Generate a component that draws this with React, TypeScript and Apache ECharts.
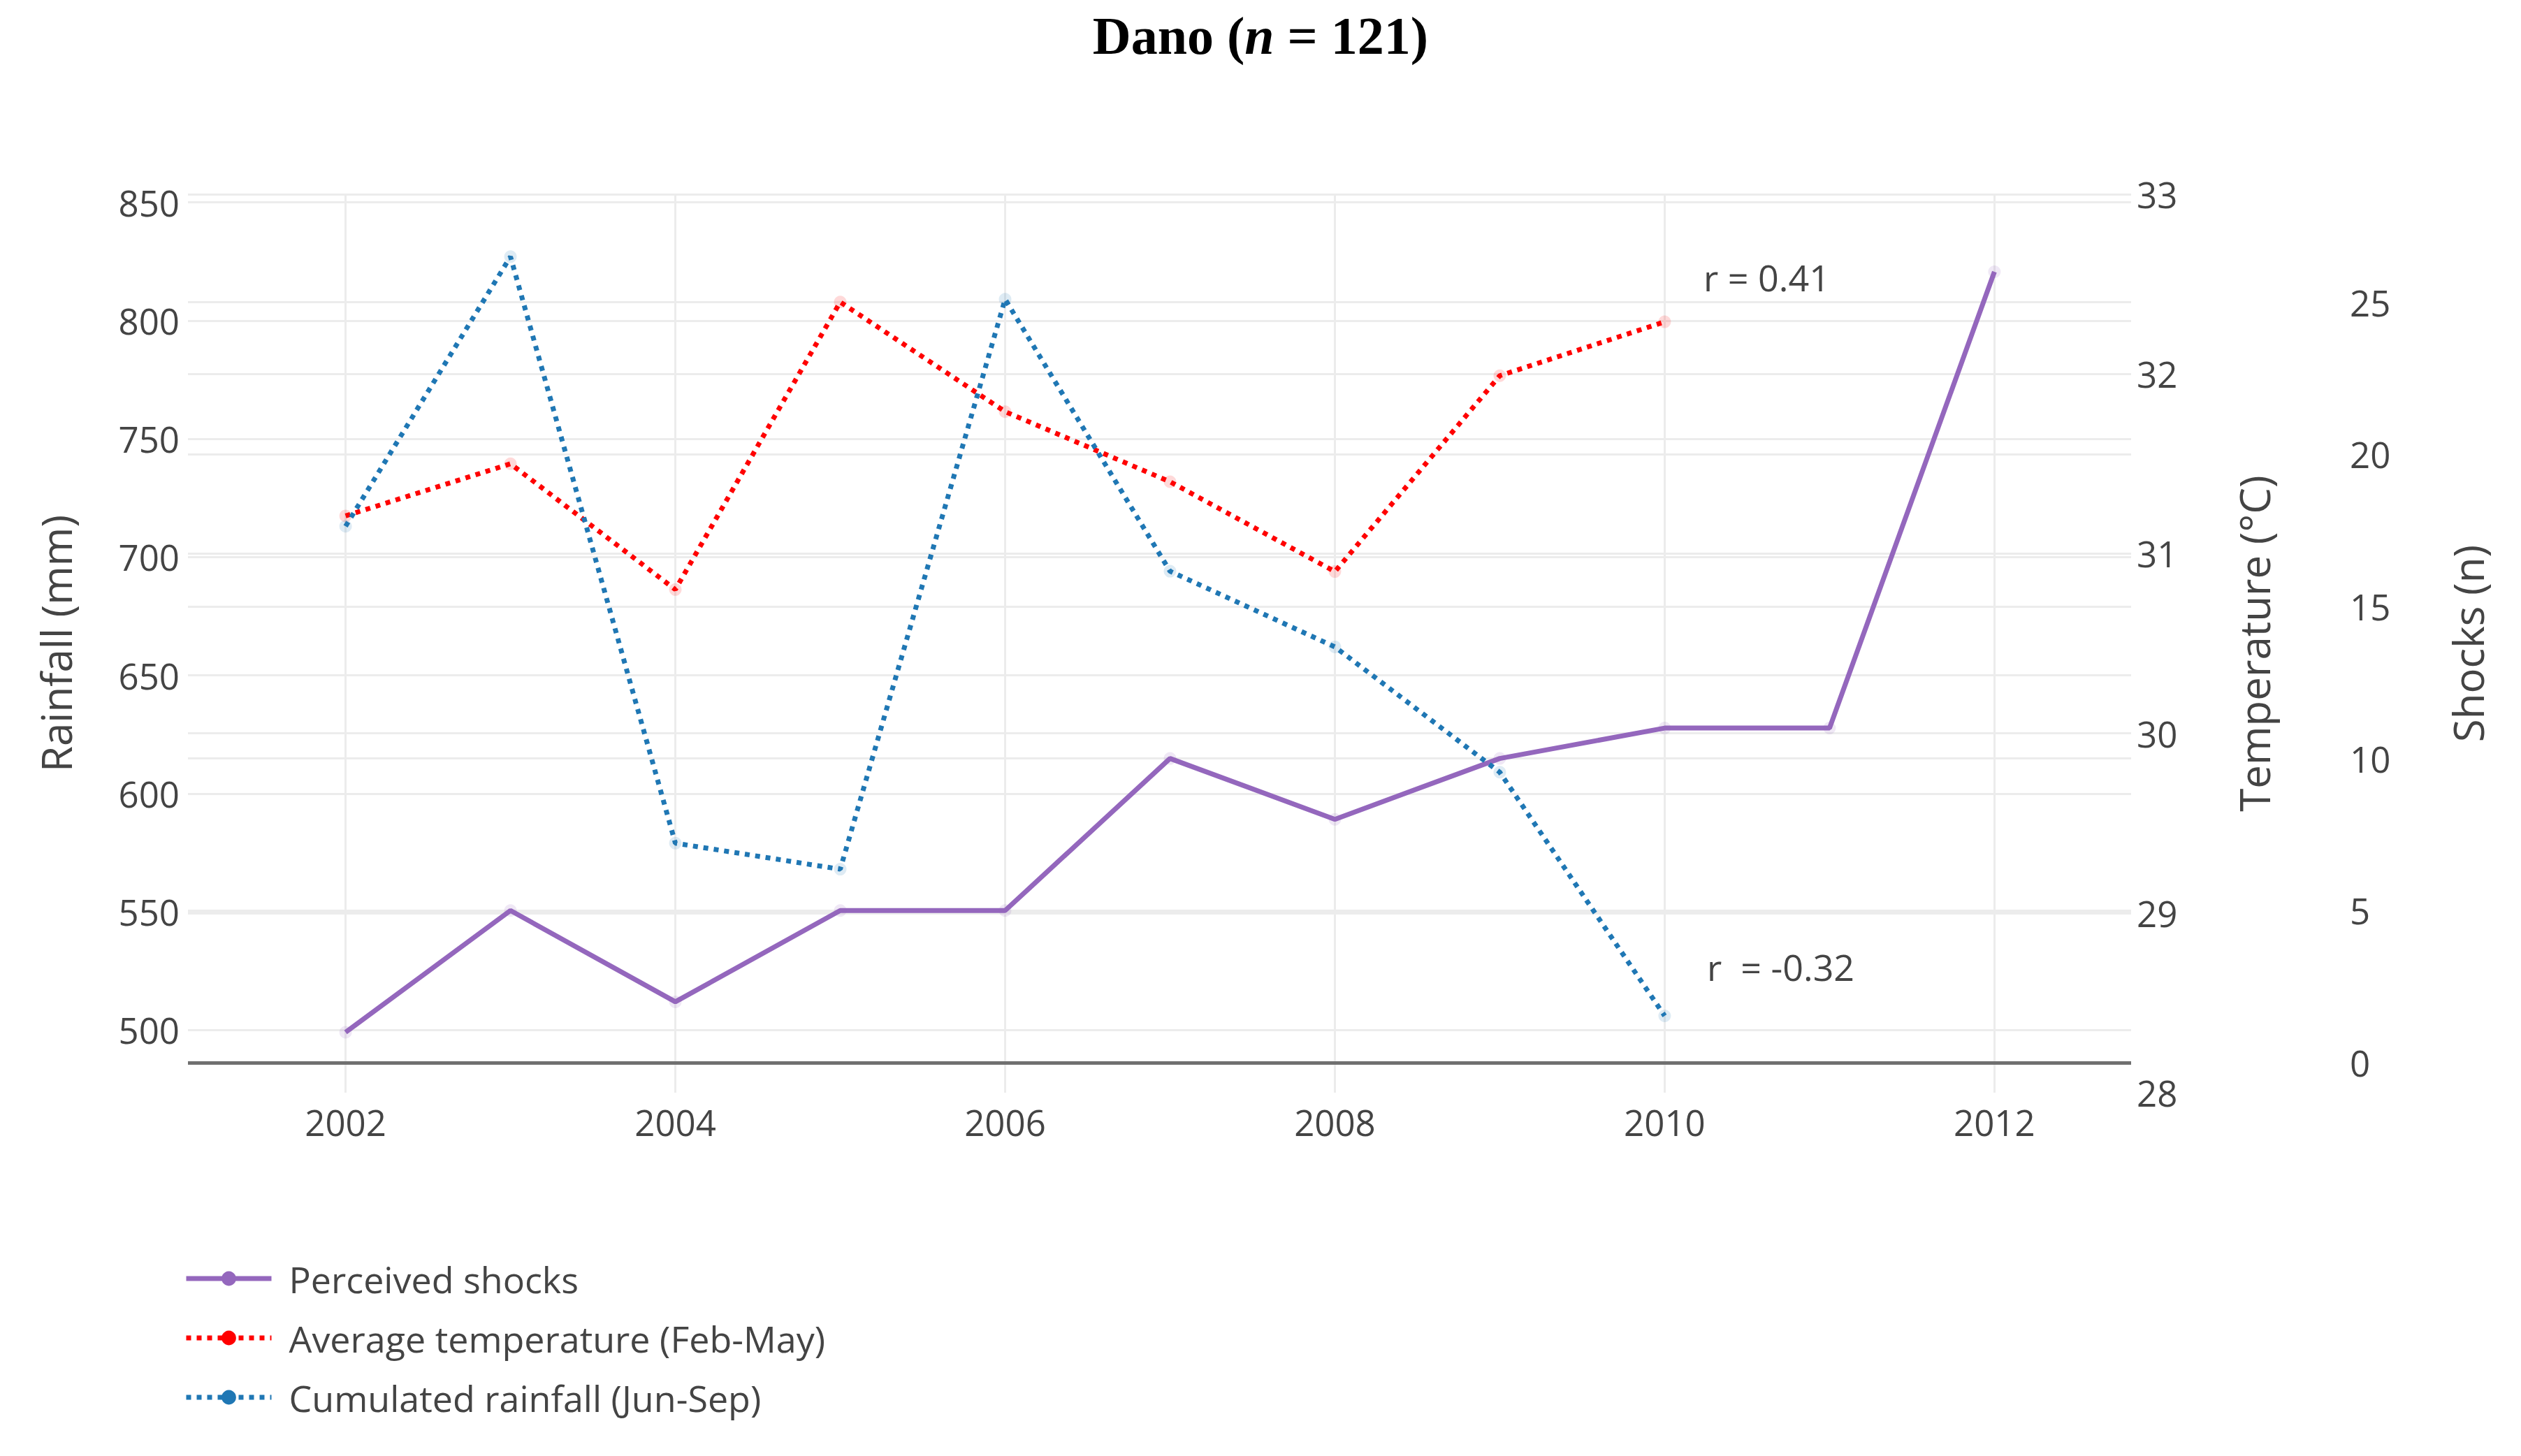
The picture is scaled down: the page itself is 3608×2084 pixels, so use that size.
import React, { useEffect, useRef } from "react";
import * as echarts from "echarts";

const years = [2002, 2003, 2004, 2005, 2006, 2007, 2008, 2009, 2010, 2011, 2012];
const shocks = [1, 5, 2, 5, 5, 10, 8, 10, 11, 11, 26];
const temperature = [31.21, 31.5, 30.8, 32.4, 31.79, 31.4, 30.9, 31.99, 32.29];
const rainfall = [713, 827, 579, 568, 809, 694, 662, 609, 506];
const xTicks = [2002, 2004, 2006, 2008, 2010, 2012];
const rainTicks = [500, 550, 600, 650, 700, 750, 800, 850];
const tempTicks = [28, 29, 30, 31, 32, 33];
const tempGrid = [29, 30, 31, 32, 33];
const shockTicks = [0, 5, 10, 15, 20, 25];
const seriesNames = ["Perceived shocks", "Average temperature (Feb-May)", "Cumulated rainfall (Jun-Sep)"];
const annotationTexts = ["r = 0.41", "r \u00a0= -0.32"];

const FONT = '"Open Sans", "DejaVu Sans", sans-serif';
const TXT = "#444";
const GRIDC = "#ececec";

export default function App() {
  const ref = useRef<HTMLDivElement>(null);
  useEffect(() => {
    if (!ref.current) return;
    const chart = echarts.init(ref.current, undefined, { renderer: "svg" });
    const pair = (xs: number[], ys: number[]) => ys.map((v, i) => [xs[i], v]);
    const labelStyle = { color: TXT, fontFamily: FONT, fontSize: 51 };
    const nameStyle = { color: TXT, fontFamily: FONT, fontSize: 60 };
    chart.setOption({
      animation: false,
      backgroundColor: "#fff",
      title: {
        text: "{a|Dano (}{b|n}{a| = 121)}",
        left: "center",
        top: 8,
        textStyle: {
          rich: {
            a: { fontFamily: '"Liberation Serif", "Times New Roman", serif', fontWeight: "bold", fontSize: 76, color: "#000" },
            b: { fontFamily: '"Liberation Serif", "Times New Roman", serif', fontWeight: "bold", fontStyle: "italic", fontSize: 76, color: "#000" },
          },
        },
      },
      grid: { left: 269, right: 558, top: 278, bottom: 520, containLabel: false },
      xAxis: {
        type: "value",
        min: 2001.044,
        max: 2012.829,
        axisLine: { show: false },
        axisTick: { show: false, customValues: xTicks },
        axisLabel: { customValues: xTicks, margin: 16, ...labelStyle, formatter: (v: number) => String(v) },
        splitLine: { show: true, lineStyle: { color: GRIDC, width: 3 } },
      },
      yAxis: [
        {
          type: "value",
          position: "left",
          min: 473.5,
          max: 853.4,
          name: "Rainfall (mm)",
          nameLocation: "middle",
          nameRotate: 90,
          nameGap: 159,
          nameTextStyle: nameStyle,
          axisLine: { show: false },
          axisTick: { show: false, customValues: rainTicks },
          axisLabel: { customValues: rainTicks, margin: 12, ...labelStyle },
          splitLine: { show: true, lineStyle: { color: GRIDC, width: 3 } },
        },
        {
          type: "value",
          position: "right",
          min: 28,
          max: 33,
          name: "Temperature (°C)",
          nameLocation: "middle",
          nameRotate: 90,
          nameGap: 146,
          nameTextStyle: nameStyle,
          axisLine: { show: false },
          axisTick: { show: false, customValues: tempGrid },
          axisLabel: { customValues: tempTicks, margin: 8, ...labelStyle },
          splitLine: { show: true, lineStyle: { color: GRIDC, width: 3 } },
        },
        {
          type: "value",
          position: "right",
          offset: 300,
          min: -0.988,
          max: 28.55,
          name: "Shocks (n)",
          nameLocation: "middle",
          nameRotate: 90,
          nameGap: 152,
          nameTextStyle: nameStyle,
          axisLine: { show: false },
          axisTick: { show: false, customValues: shockTicks },
          axisLabel: { customValues: shockTicks, margin: 13, ...labelStyle },
          splitLine: { show: true, lineStyle: { color: GRIDC, width: 3 } },
        },
      ],
      legend: {
        orient: "vertical",
        left: 258,
        top: 1799,
        itemWidth: 122,
        itemHeight: 26,
        itemGap: 33,
        textStyle: { color: TXT, fontFamily: FONT, fontSize: 52, lineHeight: 50, padding: [0, 0, 0, 20] },
        itemStyle: { opacity: 1 },
        lineStyle: { width: 7 },
        data: seriesNames,
      },
      graphic: [
        { type: "text", left: 2438, top: 370, style: { text: annotationTexts[0], font: `52px ${FONT}`, fill: TXT } },
        { type: "text", left: 2443, top: 1357, style: { text: annotationTexts[1], font: `52px ${FONT}`, fill: TXT } },
      ],
      series: [
        {
          name: seriesNames[0],
          type: "line",
          yAxisIndex: 2,
          data: pair(years, shocks),
          symbol: "circle",
          symbolSize: 18,
          lineStyle: { color: "#9467bd", width: 7 },
          itemStyle: { color: "#9467bd", opacity: 0.15 },
          z: 3,
          markLine: {
            silent: true,
            symbol: "none",
            label: { show: false },
            lineStyle: { color: "#707070", width: 5, type: "solid" },
            data: [{ yAxis: 0 }],
          },
        },
        {
          name: seriesNames[1],
          type: "line",
          yAxisIndex: 1,
          data: pair(years, temperature),
          symbol: "circle",
          symbolSize: 18,
          lineStyle: { color: "#ff0000", width: 7, type: [7, 8] },
          itemStyle: { color: "#ff0000", opacity: 0.15 },
          z: 4,
        },
        {
          name: seriesNames[2],
          type: "line",
          yAxisIndex: 0,
          data: pair(years, rainfall),
          symbol: "circle",
          symbolSize: 18,
          lineStyle: { color: "#1f77b4", width: 7, type: [7, 8] },
          itemStyle: { color: "#1f77b4", opacity: 0.15 },
          z: 5,
        },
      ],
    });
    return () => chart.dispose();
  }, []);
  return <div ref={ref} style={{ position: "fixed", left: 0, top: 0, width: 3608, height: 2084 }} />;
}
